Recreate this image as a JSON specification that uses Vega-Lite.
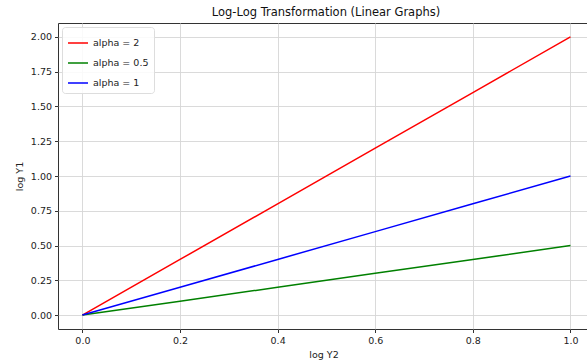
{
  "$schema": "https://vega.github.io/schema/vega-lite/v6.json",
  "autosize": {"type": "none"},
  "padding": {"left": 58, "top": 23, "right": -2, "bottom": 31},
  "width": 531,
  "height": 306,
  "background": "white",
  "title": {
    "text": "Log-Log Transformation (Linear Graphs)",
    "font": "DejaVu Sans",
    "fontSize": 11.5,
    "fontWeight": "normal",
    "color": "#111",
    "anchor": "middle",
    "dx": 2.5,
    "offset": 5
  },
  "config": {
    "view": {"stroke": "#333", "strokeWidth": 1},
    "font": "DejaVu Sans",
    "axis": {
      "domain": false,
      "labelFont": "DejaVu Sans",
      "titleFont": "DejaVu Sans",
      "labelFontSize": 9.5,
      "titleFontSize": 9.5,
      "titleFontWeight": "normal",
      "labelColor": "#222",
      "titleColor": "#222",
      "tickColor": "#333",
      "tickSize": 3.5,
      "labelOverlap": false,
      "gridColor": "#d6d6d6",
      "gridWidth": 0.9
    }
  },
  "data": {
    "values": [
      {"series": "alpha = 2", "x": 0.0, "y": 0.0},
      {"series": "alpha = 2", "x": 0.2, "y": 0.4},
      {"series": "alpha = 2", "x": 0.4, "y": 0.8},
      {"series": "alpha = 2", "x": 0.6, "y": 1.2},
      {"series": "alpha = 2", "x": 0.8, "y": 1.6},
      {"series": "alpha = 2", "x": 1.0, "y": 2.0},
      {"series": "alpha = 0.5", "x": 0.0, "y": 0.0},
      {"series": "alpha = 0.5", "x": 0.2, "y": 0.1},
      {"series": "alpha = 0.5", "x": 0.4, "y": 0.2},
      {"series": "alpha = 0.5", "x": 0.6, "y": 0.3},
      {"series": "alpha = 0.5", "x": 0.8, "y": 0.4},
      {"series": "alpha = 0.5", "x": 1.0, "y": 0.5},
      {"series": "alpha = 1", "x": 0.0, "y": 0.0},
      {"series": "alpha = 1", "x": 0.2, "y": 0.2},
      {"series": "alpha = 1", "x": 0.4, "y": 0.4},
      {"series": "alpha = 1", "x": 0.6, "y": 0.6},
      {"series": "alpha = 1", "x": 0.8, "y": 0.8},
      {"series": "alpha = 1", "x": 1.0, "y": 1.0}
    ]
  },
  "mark": {"type": "line", "strokeWidth": 1.5},
  "encoding": {
    "x": {
      "field": "x",
      "type": "quantitative",
      "scale": {"domain": [-0.05, 1.038], "nice": false, "zero": false},
      "axis": {
        "title": "log Y2",
        "values": [0, 0.2, 0.4, 0.6, 0.8, 1.0],
        "format": ".1f",
        "titlePadding": 4,
        "labelPadding": 3
      }
    },
    "y": {
      "field": "y",
      "type": "quantitative",
      "scale": {"domain": [-0.1, 2.1], "nice": false, "zero": false},
      "axis": {
        "title": "log Y1",
        "values": [0, 0.25, 0.5, 0.75, 1.0, 1.25, 1.5, 1.75, 2.0],
        "format": ".2f",
        "titlePadding": 6,
        "labelPadding": 3
      }
    },
    "color": {
      "field": "series",
      "type": "nominal",
      "scale": {
        "domain": ["alpha = 2", "alpha = 0.5", "alpha = 1"],
        "range": ["#ff0000", "#008000", "#0000ff"]
      },
      "legend": {
        "title": null,
        "orient": "top-left",
        "offset": 4,
        "symbolType": "stroke",
        "symbolSize": 400,
        "symbolStrokeWidth": 1.5,
        "labelFont": "DejaVu Sans",
        "labelFontSize": 9.5,
        "labelColor": "#222",
        "rowPadding": 4,
        "padding": 5,
        "cornerRadius": 3,
        "strokeColor": "#dddddd",
        "fillColor": "rgba(255,255,255,0.85)"
      }
    }
  }
}
